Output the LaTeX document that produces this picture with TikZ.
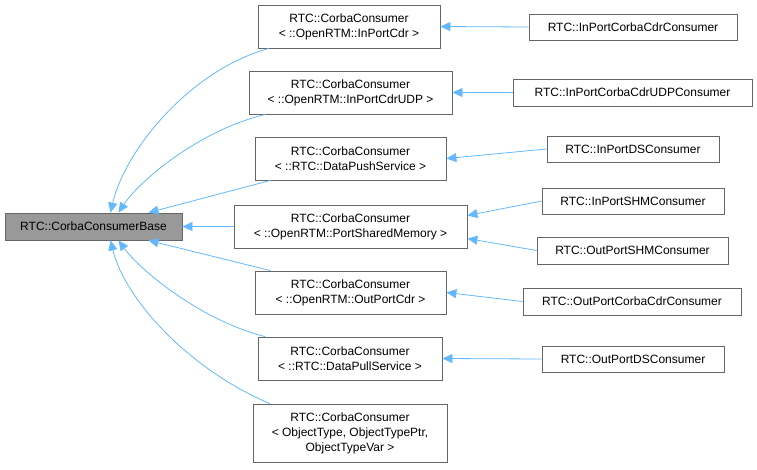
\documentclass[tikz,border=0pt]{standalone}
\usepackage{fontspec}
\setmainfont{Liberation Sans}
\usetikzlibrary{arrows.meta}
\definecolor{edge}{HTML}{63B8FF}
\definecolor{bd}{HTML}{666666}
\begin{document}
\begin{tikzpicture}[x=1pt,y=-1pt,
  box/.style={draw=bd,fill=white,line width=0.8pt,inner sep=2pt,align=center,font=\fontsize{12}{15}\selectfont},
  inh/.style={draw=edge,line width=0.8pt,-{Triangle[length=10pt,width=9pt,fill=edge]}}]
\useasboundingbox (0,0) rectangle (757,469);
\node[box,fill=black!40,minimum width=177,minimum height=27] (base) at (93.5,226.5) {RTC::CorbaConsumerBase};
\node[box,minimum width=182,minimum height=43] (m1) at (349,26.5) {RTC::CorbaConsumer\\ \textless{} ::OpenRTM::InPortCdr \textgreater};
\node[box,minimum width=203,minimum height=43] (m2) at (350.5,92.5) {RTC::CorbaConsumer\\ \textless{} ::OpenRTM::InPortCdrUDP \textgreater};
\node[box,minimum width=191,minimum height=43] (m3) at (350.5,158.5) {RTC::CorbaConsumer\\ \textless{} ::RTC::DataPushService \textgreater};
\node[box,minimum width=233,minimum height=43] (m4) at (350.5,226.5) {RTC::CorbaConsumer\\ \textless{} ::OpenRTM::PortSharedMemory \textgreater};
\node[box,minimum width=191,minimum height=43] (m5) at (350.5,292.5) {RTC::CorbaConsumer\\ \textless{} ::OpenRTM::OutPortCdr \textgreater};
\node[box,minimum width=184,minimum height=43] (m6) at (350,358.5) {RTC::CorbaConsumer\\ \textless{} ::RTC::DataPullService \textgreater};
\node[box,minimum width=194,minimum height=58] (m7) at (350,433) {RTC::CorbaConsumer\\ \textless{} ObjectType, ObjectTypePtr,\\ ObjectTypeVar \textgreater};
\node[box,minimum width=208,minimum height=26] (r1) at (633,27) {RTC::InPortCorbaCdrConsumer};
\node[box,minimum width=239,minimum height=27] (r2) at (632.5,92.5) {RTC::InPortCorbaCdrUDPConsumer};
\node[box,minimum width=172,minimum height=26] (r3) at (633,149) {RTC::InPortDSConsumer};
\node[box,minimum width=182,minimum height=26] (r4) at (633,201) {RTC::InPortSHMConsumer};
\node[box,minimum width=191,minimum height=27] (r5) at (632.5,250.5) {RTC::OutPortSHMConsumer};
\node[box,minimum width=218,minimum height=27] (r6) at (632,301.5) {RTC::OutPortCorbaCdrConsumer};
\node[box,minimum width=182,minimum height=26] (r7) at (633,359) {RTC::OutPortDSConsumer};
% middle to base
\draw[inh] ([xshift=-80]m1.south) .. controls (190,70) and (125,150) .. ([xshift=17]base.north);
\draw[inh] ([xshift=-85]m2.south) .. controls (200,130) and (140,180) .. ([xshift=25]base.north);
\draw[inh] ([xshift=-80]m3.south) -- ([xshift=55]base.north);
\draw[inh] (m4.west) -- (base.east);
\draw[inh] ([xshift=-80]m5.north) -- ([xshift=55]base.south);
\draw[inh] ([xshift=-85]m6.north) .. controls (200,320) and (140,270) .. ([xshift=25]base.south);
\draw[inh] ([xshift=-80]m7.north) .. controls (190,370) and (125,300) .. ([xshift=17]base.south);
% right to middle
\draw[inh] (r1.west) -- (m1.east);
\draw[inh] (r2.west) -- (m2.east);
\draw[inh] (r3.west) -- (m3.east);
\draw[inh] (r4.west) -- ([yshift=11]m4.east);
\draw[inh] (r5.west) -- ([yshift=-12]m4.east);
\draw[inh] (r6.west) -- (m5.east);
\draw[inh] (r7.west) -- (m6.east);
\end{tikzpicture}
\end{document}
